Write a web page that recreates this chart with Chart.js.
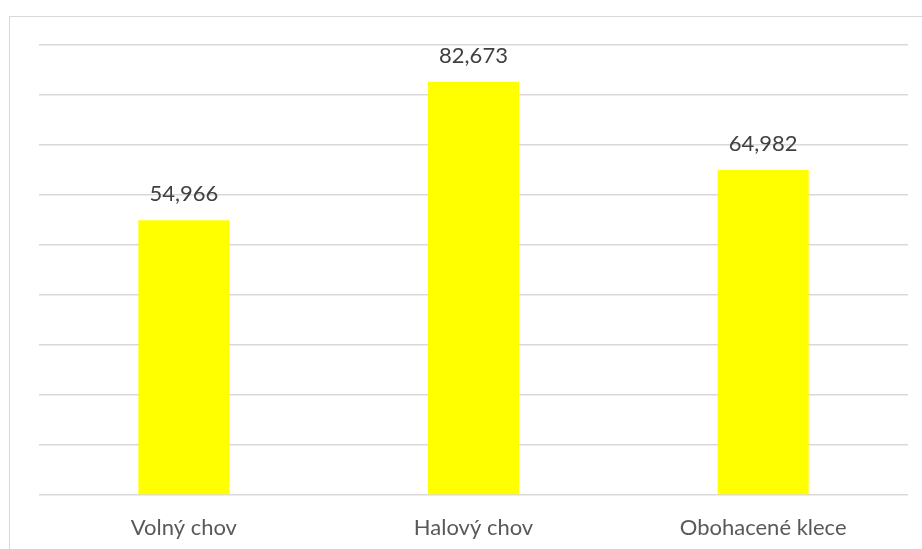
<!DOCTYPE html>
<html>
<head>
<meta charset="utf-8">
<script src="https://cdn.jsdelivr.net/npm/chart.js@4"></script>
<style>
  html, body { margin: 0; padding: 0; background: #fff; overflow: hidden; }
  #wrap { position: relative; width: 922px; height: 549px; }
  #ramecek { position: absolute; left: 9px; top: 16px; width: 1000px; height: 600px; border: 1px solid #d9d9d9; }
  canvas { position: absolute; left: 0; top: 0; }
</style>
</head>
<body>
<div id="wrap">
  <div id="ramecek"></div>
  <canvas id="graf" width="922" height="549"></canvas>
</div>
<script>
// data
const kategorie = ['Volný chov', 'Halový chov', 'Obohacené klece'];
const hodnoty = [54.966, 82.673, 64.982];
const osaMax = 90;
const osaKrok = 10;

// popisky nad sloupci (s desetinnou čárkou)
const popiskyPlugin = {
  id: 'popisky',
  afterDatasetsDraw(chart) {
    const ctx = chart.ctx;
    const meta = chart.getDatasetMeta(0);
    ctx.save();
    ctx.font = '22px Lato';
    ctx.fillStyle = '#404040';
    ctx.textAlign = 'center';
    ctx.textBaseline = 'middle';
    meta.data.forEach((bar, i) => {
      const txt = hodnoty[i].toFixed(3).replace('.', ',');
      ctx.fillText(txt, bar.x, bar.y - 26);
    });
    ctx.restore();
  }
};

new Chart(document.getElementById('graf'), {
  type: 'bar',
  data: {
    labels: kategorie,
    datasets: [{
      data: hodnoty,
      backgroundColor: '#ffff00',
      borderWidth: 0,
      barPercentage: 0.9,
      categoryPercentage: 0.349
    }]
  },
  options: {
    responsive: false,
    animation: false,
    layout: { padding: { left: 39, right: 14, top: 45, bottom: 0 } },
    plugins: {
      legend: { display: false },
      tooltip: { enabled: false }
    },
    scales: {
      x: {
        grid: { display: false },
        border: { display: false },
        ticks: { font: { family: 'Lato', size: 22 }, color: '#595959', padding: 12 },
        afterFit: s => { s.height = 54; }
      },
      y: {
        min: 0,
        max: osaMax,
        ticks: { display: false, stepSize: osaKrok },
        grid: { color: '#d9d9d9', lineWidth: 1.5, drawTicks: false },
        border: { display: false },
        afterFit: s => { s.width = 0; }
      }
    }
  },
  plugins: [popiskyPlugin]
});
</script>
</body>
</html>
